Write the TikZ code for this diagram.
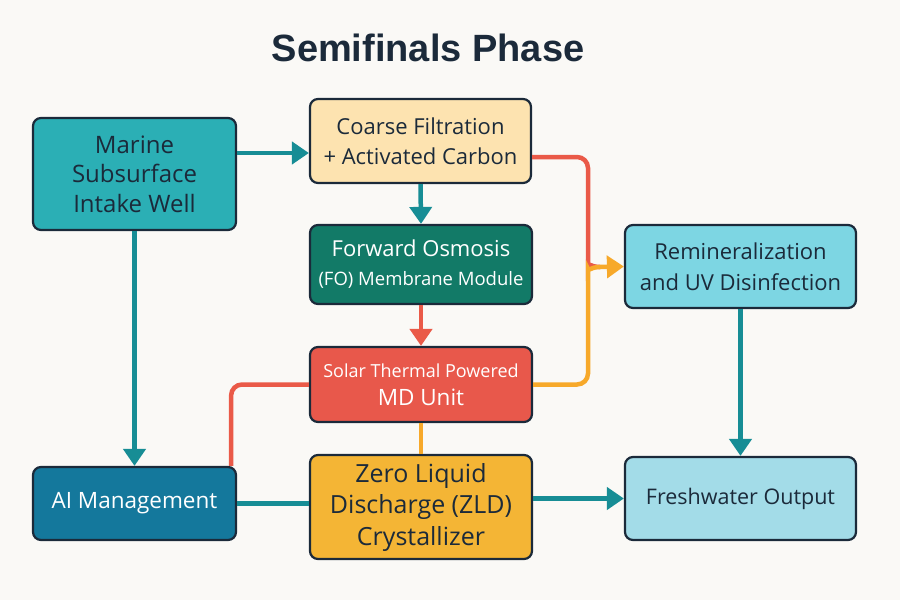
\documentclass[tikz,border=0pt]{standalone}
\usepackage{fontspec}
\setmainfont{Open Sans}
\newfontfamily\titlefont{Liberation Sans}
\usetikzlibrary{arrows.meta,calc}
\definecolor{bgc}{HTML}{FAF9F6}
\definecolor{ink}{HTML}{1B2A3A}
\definecolor{tealbox}{HTML}{2BAFB5}
\definecolor{tealln}{HTML}{178D95}
\definecolor{peach}{HTML}{FDE3B0}
\definecolor{dgreen}{HTML}{127A67}
\definecolor{redbox}{HTML}{E8584B}
\definecolor{redln}{HTML}{EA5A48}
\definecolor{zldc}{HTML}{F4B535}
\definecolor{orln}{HTML}{F7A92A}
\definecolor{aic}{HTML}{14789C}
\definecolor{reminc}{HTML}{7DD6E3}
\definecolor{freshc}{HTML}{A3DCE8}
\tikzset{
  boxbase/.style={draw=ink, line width=2.2pt, rounded corners=8pt, align=center, inner sep=0pt},
  conn/.style={line width=4.5pt, rounded corners=11pt},
  tip/.style={-{Triangle[length=17pt,width=22pt]}},
}
\begin{document}
\begin{tikzpicture}[x=1pt,y=-1pt]
\fill[bgc] (0,0) rectangle (900,600);
\useasboundingbox (0,0) rectangle (900,600);

\node[text=ink, font=\titlefont\fontsize{38}{42}\selectfont\bfseries] (title) at (428,48) {Semifinals Phase};

\node[boxbase, fill=tealbox, text=ink, minimum width=203pt, minimum height=112pt,
      font=\fontsize{24}{29.5}\selectfont] (marine) at (134.5,174) {Marine\\Subsurface\\Intake Well};
\node[boxbase, fill=peach, text=ink, minimum width=221pt, minimum height=84pt,
      font=\fontsize{22}{30}\selectfont] (coarse) at (420.5,141) {Coarse Filtration\\+ Activated Carbon};
\node[boxbase, fill=dgreen, text=white, minimum width=222pt, minimum height=79pt,
      font=\fontsize{18.5}{29}\selectfont] (fo) at (421,264.5)
      {{\fontsize{22}{29}\selectfont Forward Osmosis}\\(FO) Membrane Module};
\node[boxbase, fill=redbox, text=white, minimum width=222pt, minimum height=75pt,
      font=\fontsize{18}{28}\selectfont] (md) at (421,384.5)
      {Solar Thermal Powered\\{\fontsize{22.5}{28}\selectfont MD Unit}};
\node[boxbase, fill=zldc, text=ink, minimum width=222pt, minimum height=104pt,
      font=\fontsize{25}{31.5}\selectfont] (zld) at (421,507) {Zero Liquid\\Discharge (ZLD)\\Crystallizer};
\node[boxbase, fill=aic, text=white, minimum width=203pt, minimum height=73pt,
      font=\fontsize{22.5}{26}\selectfont] (ai) at (134.5,503.5) {AI Management};
\node[boxbase, fill=reminc, text=ink, minimum width=231pt, minimum height=83pt,
      font=\fontsize{22}{31}\selectfont] (remin) at (740.5,266.5) {Remineralization\\and UV Disinfection};
\node[boxbase, fill=freshc, text=ink, minimum width=231pt, minimum height=83pt,
      font=\fontsize{21.5}{26}\selectfont] (fresh) at (740.5,498.5) {Freshwater Output};

% junction points
\coordinate (jr) at (588,157);
\coordinate (jo) at (588,384.5);
\coordinate (jm) at (600,267);

% connectors
\draw[conn, tealln, tip] ([yshift=21pt]marine.east) -- ([yshift=21pt]marine.east -| coarse.west);
\draw[conn, tealln, tip] (coarse.south) -- (fo.north);
\draw[conn, redln, tip] (fo.south) -- (md.north);
\draw[conn, orln] (md.south) -- (zld.north);
\draw[conn, tealln, tip] (marine.south) -- (ai.north);
\draw[conn, tealln] (ai.east) -- (ai.east -| zld.west);
\draw[conn, tealln, tip] (zld.east |- fresh.west) -- (fresh.west);
\draw[conn, tealln, tip] (remin.south) -- (fresh.north);
\draw[conn, redln] (md.west) -| ([xshift=-6pt]ai.north east);
\draw[conn, redln] ([yshift=-16pt]coarse.east) -- (jr) -- (588,255) .. controls (588,262) and (590,267) .. (jm);
\draw[conn, orln] (md.east) -- (jo) -- (588,280) .. controls (588,272) and (590,267) .. (jm);
\draw[conn, orln, tip] (jm) -- (remin.west);
\end{tikzpicture}
\end{document}
